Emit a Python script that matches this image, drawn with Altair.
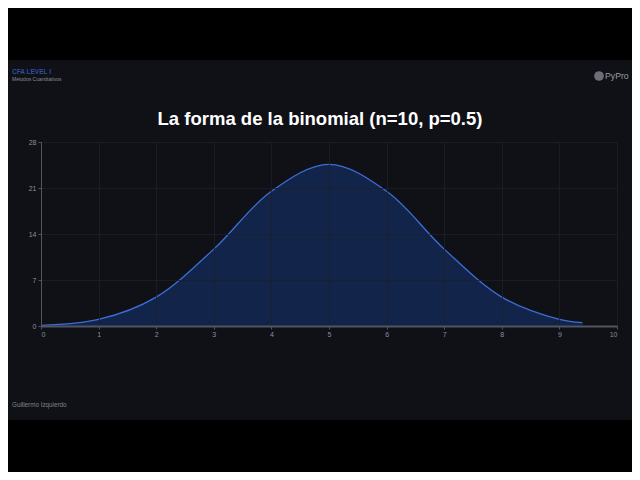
import altair as alt
import pandas as pd

# Binomial(10, 0.5) shape, in percent
k_values = [0, 1, 2, 3, 4, 5, 6, 7, 8, 9, 9.4]
prob_pct = [0.1, 1.0, 4.4, 11.7, 20.5, 24.6, 20.5, 11.7, 4.4, 1.0, 0.5]
x_ticks = [0, 1, 2, 3, 4, 5, 6, 7, 8, 9, 10]
y_ticks = [0, 7, 14, 21, 28]

title_text = "La forma de la binomial (n=10, p=0.5)"
brand_text = "CFA LEVEL I"
subtitle_text = "Métodos Cuantitativos"
logo_text = "PyPro"
author_text = "Guillermo Izquierdo"

df = pd.DataFrame({"k": k_values, "p": prob_pct})
one = pd.DataFrame({"a": [0]})

W, H = 576, 184
L, T = 41, 142  # page position of plot origin (for decorations)

PANEL = "#0f1117"
GRAY = "#8b9099"

band_top = alt.Chart(one).mark_rect(color="#000000").encode(
    x=alt.value(-50), x2=alt.value(640),
    y=alt.value(-150), y2=alt.value(60 - T),
)
band_bottom = alt.Chart(one).mark_rect(color="#000000").encode(
    x=alt.value(-50), x2=alt.value(640),
    y=alt.value(420 - T), y2=alt.value(500 - T),
)

area = alt.Chart(df).mark_area(
    interpolate="catmull-rom", color="#13244a", opacity=1,
    line={"color": "#3d6ed6", "strokeWidth": 1.3},
).encode(
    x=alt.X("k:Q", scale=alt.Scale(domain=[0, 10], nice=False),
            axis=alt.Axis(values=x_ticks, title=None, format="d", zindex=1)),
    y=alt.Y("p:Q", scale=alt.Scale(domain=[0, 28], nice=False),
            axis=alt.Axis(values=y_ticks, title=None, format="d", zindex=1)),
)

def txt(t, x, y, size, color, weight="normal", align="left", font="Liberation Sans"):
    return alt.Chart(one).mark_text(
        text=t, fontSize=size, color=color, fontWeight=weight,
        align=align, baseline="middle", font=font,
    ).encode(x=alt.value(x - L), y=alt.value(y - T))

title = txt(title_text, 320, 119, 18.5, "#ffffff", weight="bold", align="center")
brand = txt(brand_text, 12, 72, 6.5, "#2f4f9e", weight="bold")
sub = txt(subtitle_text, 12, 79, 5, "#8a8d94")
logo_dot = alt.Chart(one).mark_point(shape="circle", size=95, color="#6b6e75", filled=True, opacity=1).encode(
    x=alt.value(599 - L), y=alt.value(76 - T))
logo = txt(logo_text, 605, 75.5, 8.7, "#9a9ca2")
author = txt(author_text, 12, 405, 6.3, "#80838a")

chart = alt.layer(area, band_top, band_bottom, title, brand, sub, logo_dot, logo, author).properties(
    width=W, height=H,
    background=PANEL,
    padding={"left": 33, "top": 134, "right": 15, "bottom": 146},
    autosize=alt.AutoSizeParams(type="none"),
).configure_view(stroke=None).configure_axis(
    gridColor="#1d2029", gridWidth=0.8,
    labelColor=GRAY, labelFontSize=7, labelFont="Liberation Sans",
    domainColor="#50555f", tickColor="#50555f", tickSize=3,
    labelPadding=2,
).configure_axisX(domainWidth=2, labelPadding=1).configure_axisY(domainWidth=1)

chart.save("out.html", embed_options={"renderer": "svg", "actions": False})
